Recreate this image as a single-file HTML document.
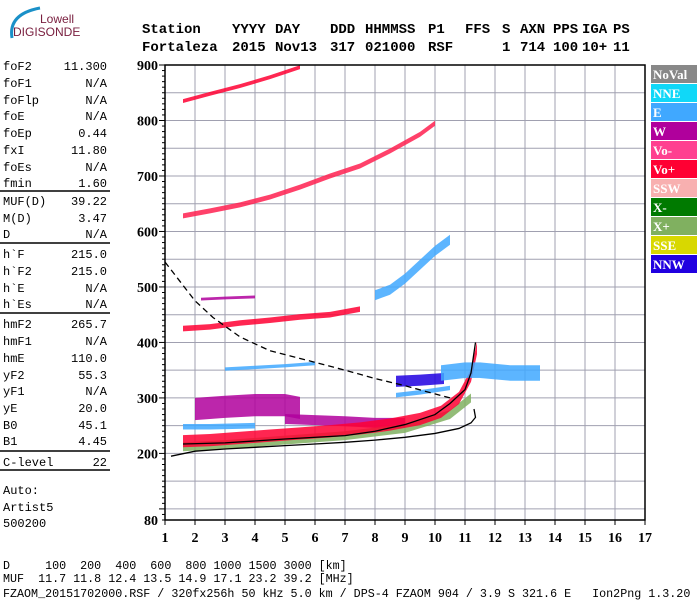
<!DOCTYPE html>
<html><head><meta charset="utf-8"><style>
body{margin:0;background:#fff;}
svg{display:block;}
.m{font-family:"Liberation Mono",monospace;}
.s{font-family:"Liberation Serif",serif;font-weight:bold;}
</style></head><body>
<svg id="chart" width="700" height="600" viewBox="0 0 700 600" xmlns="http://www.w3.org/2000/svg">
<g>
<path d="M12,38 Q8,14 40,8" stroke="#1a90c8" stroke-width="3" fill="none"/>
<text x="40" y="23" font-family="Liberation Sans,sans-serif" font-size="12" fill="#7a2040">Lowell</text>
<text x="13" y="36" font-family="Liberation Sans,sans-serif" font-size="12" fill="#7a2040">DIGISONDE</text>
</g>
<g id="header" class="m" font-size="14" font-weight="bold"></g>
<g id="params" class="m" font-size="12"></g>
<g id="plot"></g>
<g id="legend"></g>
<g class="m" font-size="11.7">
<text x="3" y="569" xml:space="preserve">D     100  200  400  600  800 1000 1500 3000 [km]</text>
<text x="3" y="582" xml:space="preserve">MUF  11.7 11.8 12.4 13.5 14.9 17.1 23.2 39.2 [MHz]</text>
<text x="3" y="597" xml:space="preserve">FZAOM_20151702000.RSF / 320fx256h 50 kHz 5.0 km / DPS-4 FZAOM 904 / 3.9 S 321.6 E   Ion2Png 1.3.20</text>
</g>
</svg>
<script>
const NS="http://www.w3.org/2000/svg";
// ---- data ----
const xTicks=[1,2,3,4,5,6,7,8,9,10,11,12,13,14,15,16,17];
const yTicks=[80,200,300,400,500,600,700,800,900];
const paramLabels=["foF2","foF1","foFlp","foE","foEp","fxI","foEs","fmin","MUF(D)","M(D)","D","h`F","h`F2","h`E","h`Es","hmF2","hmF1","hmE","yF2","yF1","yE","B0","B1","C-level"];
const paramValues=["11.300","N/A","N/A","N/A","0.44","11.80","N/A","1.60","39.22","3.47","N/A","215.0","215.0","N/A","N/A","265.7","N/A","110.0","55.3","N/A","20.0","45.1","4.45","22"];
const legendNames=["NoVal","NNE","E","W","Vo-","Vo+","SSW","X-","X+","SSE","NNW"];
const legendColors=["#888888","#10d8f8","#40a8ff","#b0009c","#ff4090","#ff0033","#f8b0b0","#007a00","#80b060","#d8d800","#2000e0"];
const headTop=["Station","YYYY","DAY","DDD","HHMMSS","P1","FFS","S","AXN","PPS","IGA","PS"];
const headBot=["Fortaleza","2015","Nov13","317","021000","RSF","","1","714","100","10+","11"];
const headX=[142,232,275,330,365,428,465,502,520,553,582,613];
// traces: frequency (MHz), virtual height (km)
const tX1f=[1.6,3,5,7,9,10.5,11.2], tX1h=[212,216,224,232,245,270,300];
const tO1f=[1.6,2.5,3.5,4.5,5.5,6.5,7.5,8.5,9.5,10.2,10.8,11.2,11.4], tO1h=[222,224,228,232,236,240,245,252,262,275,300,340,390];
const tW1f=[2,3,4,5,5.5], tW1h=[280,284,287,287,282];
const tW2f=[5,6,7,8,9], tW2h=[262,260,258,255,255];
const tE0f=[1.6,2.5,4], tE0h=[248,248,250];
const tNNWf=[8.7,9.5,10.3], tNNWh=[330,332,335];
const tE1f=[10.2,11,11.5,12.5,13.5], tE1h=[345,350,350,345,345];
const tE2f=[8.7,9.5,10.5], tE2h=[305,310,318];
const tE3f=[3,4,5,6], tE3h=[352,355,358,362];
const tO2f=[1.6,2.5,3.5,4.5,5.5,6.5,7.5], tO2h=[425,428,435,440,446,450,460];
const tW3f=[2.2,3,4], tW3h=[478,480,482];
const tE4f=[8,8.5,9,9.5,10,10.5], tE4h=[485,495,515,540,565,585];
const tO3f=[1.6,2.5,3.5,4.5,5.5,6.5,7.5,8.5,9.5,10], tO3h=[628,637,648,662,680,700,718,745,775,795];
const tO4f=[1.6,2.5,3.5,4.5,5.5], tO4h=[835,848,862,878,896];
const profLf=[1.2,2,3,4,5,6,7,8,9,10,10.8,11.2,11.35,11.3], profLh=[195,204,208,211,214,217,220,224,229,236,245,255,265,280];
const profUf=[1.6,3,5,7,8,9,10,10.5,11,11.2,11.35], profUh=[217,219,226,232,240,252,270,290,315,345,400];
const dashF=[1,2,2.6,3.5,4.5,5.8,7,8,9,9.6,10.5], dashH=[545,475,445,410,385,367,350,335,322,313,300];
// ---- axes ----
const X0=165,X1=645,Y0=65,Y1=520;
const xs=f=>X0+(f-1)*(X1-X0)/16;
const ys=h=>Y0+(900-h)*(Y1-Y0)/820;
function mk(tag,at,par){const e=document.createElementNS(NS,tag);for(const k in at)e.setAttribute(k,at[k]);par.appendChild(e);return e;}
// header
const hd=document.getElementById('header');
headTop.forEach((s,i)=>{const t=mk('text',{x:headX[i],y:33},hd);t.textContent=s;
 
 
 if(headBot[i]){const b=mk('text',{x:headX[i],y:51},hd);b.textContent=headBot[i];
 
 }});
const plot=document.getElementById('plot');
// grid
for(let h=100;h<=900;h+=50){const g=mk('line',{x1:X0,x2:X1,y1:ys(h),y2:ys(h),stroke:'#a0a0b0','stroke-width':1},plot);

}
for(const f of xTicks){if(f===1||f===17)continue;const g=mk('line',{x1:xs(f),x2:xs(f),y1:Y0,y2:Y1,stroke:'#a0a0b0','stroke-width':1},plot);

}
// traces
function band(fa,ha,th,col,name){for(let i=0;i<fa.length-1;i++){
 const p=[[xs(fa[i]),ys(ha[i]+th/2)],[xs(fa[i+1]),ys(ha[i+1]+th/2)],[xs(fa[i+1]),ys(ha[i+1]-th/2)],[xs(fa[i]),ys(ha[i]-th/2)]];
 const e=mk('polygon',{points:p.map(q=>q.join(',')).join(' '),fill:col,'fill-opacity':0.85},plot);
 
 }}
band(tE0f,tE0h,10,'#40a8ff','trace-e-low');
band(tW1f,tW1h,40,'#b0009c','trace-w-1');
band(tW2f,tW2h,18,'#b0009c','trace-w-2');
band(tX1f,tX1h,16,'#80b060','trace-x-1');
band(tO1f,tO1h,22,'#ff0033','trace-o-1');
band(tE2f,tE2h,8,'#40a8ff','trace-e-2');
band(tE3f,tE3h,6,'#40a8ff','trace-e-3');
band(tNNWf,tNNWh,20,'#2000e0','trace-nnw');
band(tE1f,tE1h,28,'#40a8ff','trace-e-1');
band(tO2f,tO2h,10,'#ff0033','trace-o-2');
band(tW3f,tW3h,5,'#b0009c','trace-w-3');
band(tE4f,tE4h,18,'#40a8ff','trace-e-4');
band(tO3f,tO3h,9,'#ff2050','trace-o-3');
band(tO4f,tO4h,7,'#ff0033','trace-o-4');
function curve(fa,ha,dash,name){const d=fa.map((f,i)=>(i?'L':'M')+xs(f)+','+ys(ha[i])).join(' ');
 const e=mk('path',{d:d,fill:'none',stroke:'#000','stroke-width':1.3,'stroke-dasharray':dash||'none'},plot);
 
 }
curve(profLf,profLh,null,'profile-curve-lower');
curve(profUf,profUh,null,'profile-curve-upper');
curve(dashF,dashH,'6,4','muf-dashed-curve');
// frame & ticks
const fr=mk('rect',{x:X0,y:Y0,width:X1-X0,height:Y1-Y0,fill:'none',stroke:'#000','stroke-width':1.5},plot);


for(let h=80;h<=900;h+=10){const big=(h%100===0);mk('line',{x1:X0-(big?6:3),x2:X0,y1:ys(h),y2:ys(h),stroke:'#000'},plot);}
for(const t of yTicks){const e=mk('text',{x:X0-7,y:ys(t)+5,'text-anchor':'end','font-size':14,class:'s'},plot);e.textContent=t;

}
for(const f of xTicks){mk('line',{x1:xs(f),x2:xs(f),y1:Y1,y2:Y1+5,stroke:'#000'},plot);
const e=mk('text',{x:xs(f),y:Y1+22,'text-anchor':'middle','font-size':14,class:'s'},plot);e.textContent=f;

}
// legend
const lg=document.getElementById('legend');
legendNames.forEach((n,i)=>{const y=65+i*19;
 const r=mk('rect',{x:651,y:y,width:46,height:18,fill:legendColors[i]},lg);
 
 
 const t=mk('text',{x:653,y:y+14,'font-size':13,fill:'#fff',class:'s'},lg);t.textContent=n;
 
 });
// parameter panel
const pp=document.getElementById('params');
const rowY=[70,87,104,120,137,154,171,187,205,222,238,258,275,292,308,328,345,362,379,395,412,429,445,466];
paramLabels.forEach((l,i)=>{const a=mk('text',{x:3,y:rowY[i]},pp);a.textContent=l;
 
 
 const b=mk('text',{x:107,y:rowY[i],'text-anchor':'end'},pp);b.textContent=paramValues[i];
 
 });
[191,243,313,451,470].forEach(y=>mk('line',{x1:0,x2:110,y1:y,y2:y,stroke:'#000','stroke-width':1.5},pp));
[["Auto:",494],["Artist5",511],["500200",527]].forEach(([s,y])=>{const t=mk('text',{x:3,y:y},pp);t.textContent=s;
 
 });
</script>
</body></html>
